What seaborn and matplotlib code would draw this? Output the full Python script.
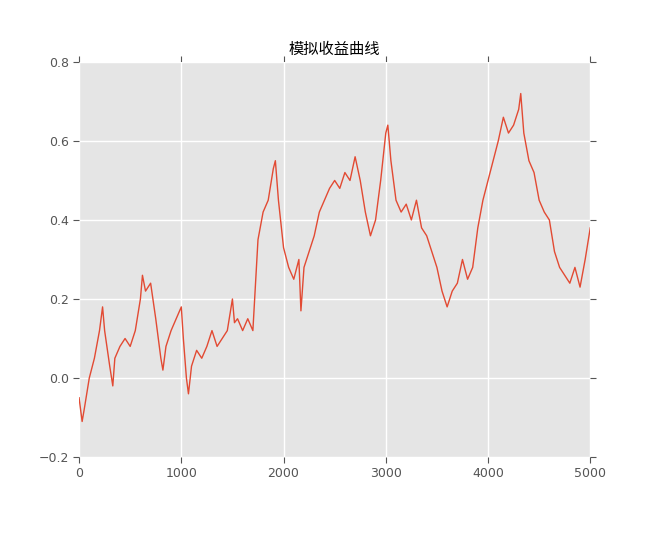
import matplotlib
matplotlib.use("Agg")
import matplotlib.pyplot as plt
import seaborn as sns
import pandas as pd

# values
steps = [0, 30, 50, 100, 150, 200, 230, 250, 300, 330, 350, 400, 450, 500, 550, 600, 620, 650,
         700, 750, 800, 820, 850, 900, 950, 1000, 1020, 1050, 1070, 1100, 1150, 1200, 1250,
         1300, 1350, 1400, 1450, 1500, 1520, 1550, 1600, 1650, 1700, 1750, 1800, 1850, 1900,
         1920, 1950, 2000, 2050, 2100, 2150, 2170, 2200, 2250, 2300, 2350, 2400, 2450, 2500,
         2550, 2600, 2650, 2700, 2750, 2800, 2850, 2900, 2950, 3000, 3020, 3050, 3100, 3150,
         3200, 3250, 3300, 3350, 3400, 3450, 3500, 3550, 3600, 3650, 3700, 3750, 3800, 3850,
         3900, 3950, 4000, 4050, 4100, 4150, 4200, 4250, 4300, 4320, 4350, 4400, 4450, 4500,
         4550, 4600, 4650, 4700, 4750, 4800, 4850, 4900, 4950, 5000]
returns = [-0.05, -0.11, -0.08, 0.0, 0.05, 0.12, 0.18, 0.12, 0.03, -0.02, 0.05, 0.08, 0.10,
           0.08, 0.12, 0.20, 0.26, 0.22, 0.24, 0.15, 0.05, 0.02, 0.08, 0.12, 0.15, 0.18, 0.10,
           0.00, -0.04, 0.03, 0.07, 0.05, 0.08, 0.12, 0.08, 0.10, 0.12, 0.20, 0.14, 0.15, 0.12,
           0.15, 0.12, 0.35, 0.42, 0.45, 0.53, 0.55, 0.45, 0.33, 0.28, 0.25, 0.30, 0.17, 0.28,
           0.32, 0.36, 0.42, 0.45, 0.48, 0.50, 0.48, 0.52, 0.50, 0.56, 0.50, 0.42, 0.36, 0.40,
           0.50, 0.62, 0.64, 0.55, 0.45, 0.42, 0.44, 0.40, 0.45, 0.38, 0.36, 0.32, 0.28, 0.22,
           0.18, 0.22, 0.24, 0.30, 0.25, 0.28, 0.38, 0.45, 0.50, 0.55, 0.60, 0.66, 0.62, 0.64,
           0.68, 0.72, 0.62, 0.55, 0.52, 0.45, 0.42, 0.40, 0.32, 0.28, 0.26, 0.24, 0.28, 0.23,
           0.30, 0.38]

df = pd.DataFrame({"step": steps, "ret": returns})

fig = plt.figure(figsize=(6.7, 5.48), dpi=100)
ax = fig.add_axes([0.118, 0.166, 0.763, 0.721])
ax.set_facecolor("#E5E5E5")
sns.lineplot(data=df, x="step", y="ret", color="#E24A33", linewidth=1, ax=ax)
ax.grid(color="white", linewidth=1)
ax.set_axisbelow(True)
for s in ax.spines.values():
    s.set_visible(False)
ax.set_xlim(0, 5000)
ax.set_ylim(-0.2, 0.8)
ax.set_xticks(range(0, 5001, 1000))
ax.set_yticks([-0.2, 0.0, 0.2, 0.4, 0.6, 0.8])
ax.tick_params(labelsize=9, colors="#555555", top=True, right=True, direction="out", length=4)
ax.set_xlabel("")
ax.set_ylabel("")
ax.set_title("模拟收益曲线", fontsize=11, family=["Noto Sans CJK SC", "DejaVu Sans"])
fig.savefig("out.png")
